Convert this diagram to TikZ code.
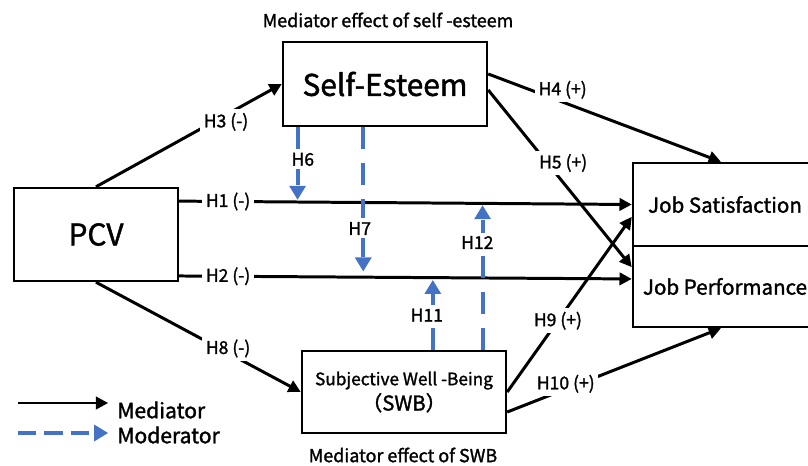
\documentclass[tikz,border=0pt]{standalone}
\usepackage{fontspec}
\setmainfont{Noto Sans CJK JP}[FakeBold=1.5]
\usetikzlibrary{arrows.meta}
\definecolor{modblue}{RGB}{68,114,196}

\begin{document}
\begin{tikzpicture}[x=0.02cm,y=-0.02cm,
    box/.style={draw,line width=1.4pt,inner sep=0pt,align=center},
    med/.style={line width=1.7pt,-{Triangle[length=7pt,width=7pt]}},
    mod/.style={draw=modblue,line width=2.3pt,dash pattern=on 12.5pt off 8pt,-{Triangle[length=8pt,width=9pt]}},
    hyp/.style={fill=white,inner sep=2pt,font=\fontsize{10}{12}\selectfont},
    capt/.style={font=\fontsize{10.2}{12}\selectfont}]
  \useasboundingbox (0,0) rectangle (808,466);
  \node[box,minimum width=3.28cm,minimum height=1.86cm,font=\fontsize{17}{20}\selectfont] (pcv) at (96,234.5) {PCV};
  \node[box,minimum width=4.08cm,minimum height=1.68cm,font=\fontsize{17}{20}\selectfont] (se) at (385,84) {Self-Esteem};
  \node[box,minimum width=4.08cm,minimum height=1.64cm] (swb) at (404,392)
    {{\fontsize{9.8}{12}\selectfont Subjective Well -Being}\\[1pt]{\fontsize{11.6}{14}\selectfont （SWB）}};
  \node[box,minimum width=3.68cm,minimum height=1.66cm,font=\fontsize{11.7}{14}\selectfont] (js) at (725,204.5) {Job Satisfaction};
  \node[box,minimum width=3.68cm,minimum height=1.62cm,font=\fontsize{11.7}{14}\selectfont] (jp) at (725,286.5) {Job Performance};
  \node[capt] (tse) at (388,20) {Mediator effect of self -esteem};
  \node[capt] (tswb) at (403,455) {Mediator effect of SWB};

  \draw[med] (pcv.north) -- (se.west) node[hyp,pos=0.7,yshift=-4pt] (h3) {H3 (-)};
  \draw[med] ([yshift=19pt]pcv.east) -- (js.west) node[hyp,pos=0.108] (h1) {H1 (-)}
    coordinate[pos=0.2615] (m6) coordinate[pos=0.6703] (m12);
  \draw[med] ([yshift=-23.6pt]pcv.east) -- ([yshift=4.3pt]jp.west) node[hyp,pos=0.108] (h2) {H2 (-)}
    coordinate[pos=0.4066] (m7) coordinate[pos=0.5604] (m11);
  \draw[med] (pcv.south) -- (swb.west) node[hyp,pos=0.645,yshift=2.6pt] (h8) {H8 (-)};
  \draw[med] ([yshift=5.7pt]se.east) -- ([xshift=-2.3pt]js.north) node[hyp,pos=0.32,yshift=7pt] (h4) {H4 (+)};
  \draw[med] ([yshift=-3.4pt]se.east) -- ([yshift=11pt]jp.west) node[hyp,pos=0.412,xshift=9pt] (h5) {H5 (+)};
  \draw[med] (swb.east) -- ([yshift=-7pt]js.west) node[hyp,pos=0.407] (h9) {H9 (+)};
  \draw[med] ([yshift=-11.4pt]swb.east) -- ([xshift=-2.3pt]jp.south) node[hyp,pos=0.274,yshift=3pt] (h10) {H10 (+)};

  \draw[mod,shorten >=1.2pt] (m6 |- se.south) -- (m6) node[hyp,pos=0.43,xshift=3pt] (h6) {H6};
  \draw[mod,shorten >=3.2pt] (m7 |- se.south) -- (m7) node[hyp,pos=0.675,xshift=-2pt] (h7) {H7};
  \draw[mod,shorten >=1.3pt] (m11 |- swb.north) -- (m11) node[hyp,pos=0.48,xshift=-3.4pt] (h11) {H11};
  \draw[mod,shorten >=1pt] (m12 |- swb.north) -- (m12) node[hyp,pos=0.733,xshift=-3pt] (h12) {H12};

  \node[anchor=west,inner sep=0pt,font=\fontsize{12}{14}\selectfont] (lmed) at (117,410) {Mediator};
  \node[anchor=west,inner sep=0pt,font=\fontsize{12}{14}\selectfont] (lmod) at (117,435) {Moderator};
  \coordinate (lmeds) at (18,403);
  \coordinate (lmods) at (18,433);
  \draw[med,shorten >=5pt] (lmeds) -- (lmeds -| lmed.west);
  \draw[mod,dash pattern=on 10.5pt off 4.5pt,shorten >=5pt] (lmods) -- (lmods -| lmod.west);
\end{tikzpicture}
\end{document}
